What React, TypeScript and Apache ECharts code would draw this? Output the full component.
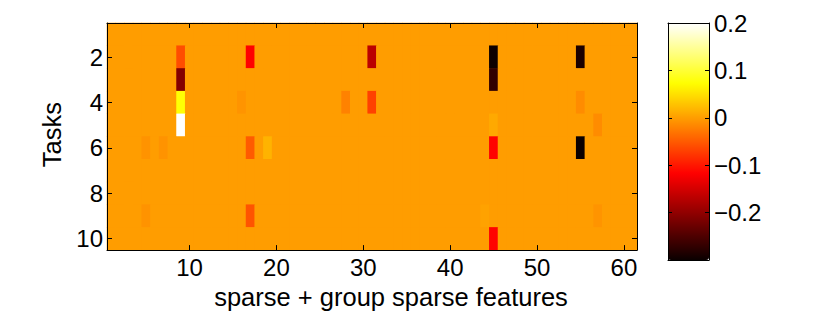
import React, { useEffect, useRef } from "react";
import * as echarts from "echarts";

// ---- data ----
const featureCount = 61;
const taskCount = 10;
const featureLabels = Array.from({ length: featureCount }, (_, i) => String(i + 1));
const taskLabels = Array.from({ length: taskCount }, (_, i) => String(i + 1));

// non-zero coefficients: feature index (1-based), task index (1-based), value
const nzFeature = [9, 9, 9, 9, 17, 17, 17, 16, 5, 7, 5, 19, 31, 31, 28, 45, 45, 45, 45, 45, 44, 55, 55, 55, 57, 57];
const nzTask = [2, 3, 4, 5, 2, 6, 9, 4, 6, 6, 9, 6, 2, 4, 4, 2, 3, 5, 6, 10, 9, 2, 4, 6, 5, 9];
const nzValue = [
  -0.06, -0.21, 0.075, 0.2,
  -0.117, -0.05, -0.055,
  -0.007,
  -0.008, -0.008, -0.008,
  0.016,
  -0.168, -0.069, -0.021,
  -0.298, -0.271, 0.009, -0.115, -0.115, 0.004,
  -0.288, -0.013, -0.3, -0.013, -0.007,
];

const colorMin = -0.3;
const colorMax = 0.2;
const colorTickStep = 0.1;

// MATLAB "hot" colormap, 64 entries
function hotColormap(n: number): string[] {
  const n1 = Math.floor((3 / 8) * n);
  const n2 = Math.floor((3 / 4) * n);
  const out: string[] = [];
  for (let i = 1; i <= n; i++) {
    const r = Math.min(1, i / n1);
    const g = Math.max(0, Math.min(1, (i - n1) / (n2 - n1)));
    const b = Math.max(0, Math.min(1, (i - n2) / (n - n2)));
    out.push(`rgb(${Math.round(r * 255)},${Math.round(g * 255)},${Math.round(b * 255)})`);
  }
  return out;
}

const FONT = "'Liberation Sans', Arial, Helvetica, sans-serif";
const TICK_FS = 24;
const NAME_FS = 25.5;

export default function App() {
  const ref = useRef<HTMLDivElement>(null);

  useEffect(() => {
    if (!ref.current) return;
    const chart = echarts.init(ref.current, undefined, { renderer: "svg" });

    const cmap = hotColormap(64);
    // colour of the zero level, used as the plot background to hide cell seams
    const zeroIdx = Math.round(((0 - colorMin) / (colorMax - colorMin)) * 63);
    const zeroColor = cmap[zeroIdx];

    // full matrix: zero everywhere except the listed coefficients
    const matrix: number[][] = taskLabels.map(() => featureLabels.map(() => 0));
    nzFeature.forEach((f, k) => {
      matrix[nzTask[k] - 1][f - 1] = nzValue[k];
    });
    const data: [number, number, number][] = [];
    matrix.forEach((row, ti) => row.forEach((v, fi) => data.push([fi, ti, v])));

    const everyTen = (idx: number) => (idx + 1) % 10 === 0;
    const everyTwo = (idx: number) => (idx + 1) % 2 === 0;
    const lineStyle = { color: "#000", width: 1 };
    const tickStyle = { color: "#000", width: 1 };

    const option: any = {
      animation: false,
      backgroundColor: "#fff",
      textStyle: { fontFamily: FONT },
      grid: [
        { left: 107, top: 23, width: 530, height: 237, show: true, backgroundColor: zeroColor, borderWidth: 0 },
        { left: 668, top: 23, width: 41, height: 237 },
      ],
      xAxis: [
        {
          type: "category",
          gridIndex: 0,
          data: featureLabels,
          position: "bottom",
          boundaryGap: true,
          z: 10,
          axisLine: { show: true, onZero: false, lineStyle },
          axisTick: { show: true, inside: true, length: 5, alignWithLabel: true, interval: everyTen, lineStyle: tickStyle },
          axisLabel: { interval: everyTen, fontSize: TICK_FS, color: "#000", fontFamily: FONT, margin: 5 },
          splitLine: { show: false },
          name: "sparse + group sparse features",
          nameLocation: "middle",
          nameGap: 44,
          nameTextStyle: { fontSize: NAME_FS, color: "#000", fontFamily: FONT, verticalAlign: "middle", padding: [0, 0, 0, 38] },
        },
        {
          type: "category",
          gridIndex: 0,
          data: featureLabels,
          position: "top",
          boundaryGap: true,
          z: 10,
          axisLine: { show: true, onZero: false, lineStyle },
          axisTick: { show: true, inside: true, length: 5, alignWithLabel: true, interval: everyTen, lineStyle: tickStyle },
          axisLabel: { show: false, interval: everyTen },
          splitLine: { show: false },
        },
        {
          type: "category",
          gridIndex: 1,
          data: [""],
          position: "bottom",
          z: 10,
          axisLine: { show: true, onZero: false, lineStyle },
          axisTick: { show: false },
          axisLabel: { show: false },
        },
        {
          type: "category",
          gridIndex: 1,
          data: [""],
          position: "top",
          z: 10,
          axisLine: { show: true, onZero: false, lineStyle },
          axisTick: { show: false },
          axisLabel: { show: false },
        },
      ],
      yAxis: [
        {
          type: "category",
          gridIndex: 0,
          data: taskLabels,
          inverse: true,
          position: "left",
          z: 10,
          axisLine: { show: true, onZero: false, lineStyle },
          axisTick: { show: true, inside: true, length: 5, alignWithLabel: true, interval: everyTwo, lineStyle: tickStyle },
          axisLabel: { interval: everyTwo, fontSize: TICK_FS, color: "#000", fontFamily: FONT, margin: 4 },
          splitLine: { show: false },
          name: "Tasks",
          nameLocation: "middle",
          nameGap: 52,
          nameRotate: 90,
          nameTextStyle: { fontSize: NAME_FS, color: "#000", fontFamily: FONT, verticalAlign: "middle", padding: [0, 0, 0, 4] },
        },
        {
          type: "category",
          gridIndex: 0,
          data: taskLabels,
          inverse: true,
          position: "right",
          z: 10,
          axisLine: { show: true, onZero: false, lineStyle },
          axisTick: { show: true, inside: true, length: 5, alignWithLabel: true, interval: everyTwo, lineStyle: tickStyle },
          axisLabel: { show: false, interval: everyTwo },
          splitLine: { show: false },
        },
        {
          type: "value",
          gridIndex: 1,
          min: colorMin,
          max: colorMax,
          interval: colorTickStep,
          position: "left",
          z: 10,
          axisLine: { show: true, onZero: false, lineStyle },
          axisTick: { show: true, inside: true, length: 4, lineStyle: tickStyle },
          axisLabel: { show: false },
          splitLine: { show: false },
        },
        {
          type: "value",
          gridIndex: 1,
          min: colorMin,
          max: colorMax,
          interval: colorTickStep,
          position: "right",
          z: 10,
          axisLine: { show: true, onZero: false, lineStyle },
          axisTick: { show: true, inside: true, length: 4, lineStyle: tickStyle },
          axisLabel: {
            fontSize: TICK_FS,
            color: "#000",
            fontFamily: FONT,
            margin: 5,
            formatter: (v: number) => {
              const r = Math.round(v * 10) / 10;
              if (Math.abs(r - colorMin) < 1e-9) return "";
              if (Math.abs(r) < 1e-9) return "0";
              return r < 0 ? "\u2212" + String(Math.abs(r)) : String(r);
            },
          },
          splitLine: { show: false },
        },
      ],
      visualMap: {
        type: "continuous",
        seriesIndex: 0,
        min: colorMin,
        max: colorMax,
        calculable: false,
        realtime: false,
        hoverLink: false,
        orient: "vertical",
        left: 668,
        top: 23,
        itemWidth: 41,
        itemHeight: 237,
        padding: 0,
        text: null,
        showLabel: false,
        inRange: { color: cmap },
      },
      series: [
        {
          type: "heatmap",
          xAxisIndex: 0,
          yAxisIndex: 0,
          data,
          itemStyle: { borderWidth: 0 },
          emphasis: { disabled: true },
        },
      ],
    };
    chart.setOption(option);
    return () => chart.dispose();
  }, []);

  return (
    <div
      ref={ref}
      style={{ position: "fixed", left: 0, top: 0, width: 822, height: 315, background: "#fff" }}
    />
  );
}
